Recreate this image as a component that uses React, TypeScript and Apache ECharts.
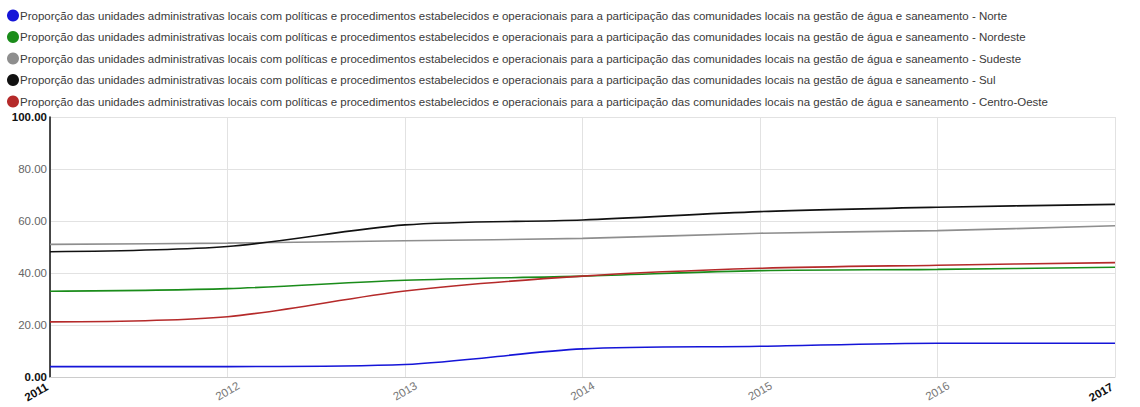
import React, { useEffect, useRef } from "react";
import * as echarts from "echarts";

const years = ["2011", "2012", "2013", "2014", "2015", "2016", "2017"];
const prefix =
  "Proporção das unidades administrativas locais com políticas e procedimentos estabelecidos e operacionais para a participação das comunidades locais na gestão de água e saneamento - ";
const regions = ["Norte", "Nordeste", "Sudeste", "Sul", "Centro-Oeste"];
const norte = [4, 4, 4.8, 10.8, 11.8, 13, 13];
const nordeste = [33, 34, 37.2, 38.8, 40.9, 41.4, 42.2];
const sudeste = [51, 51.5, 52.4, 53.3, 55.3, 56.3, 58.2];
const sul = [48.2, 50.2, 58.5, 60.4, 63.6, 65.3, 66.4];
const centroOeste = [21.2, 23.2, 33.1, 38.8, 41.8, 43, 44];
const seriesValues = [norte, nordeste, sudeste, sul, centroOeste];
const lineColors = ["#1515d8", "#1a8c1a", "#8e8e8e", "#111111", "#b52a2a"];
const yTicks = [0, 20, 40, 60, 80, 100];

export default function App() {
  const ref = useRef<HTMLDivElement>(null);
  useEffect(() => {
    if (!ref.current) return;
    const chart = echarts.init(ref.current, null, { renderer: "svg" });
    const font = "Arial, 'Liberation Sans', sans-serif";
    chart.setOption({
      animation: false,
      backgroundColor: "#ffffff",
      legend: {
        orient: "vertical",
        left: 2,
        top: 4,
        itemGap: 8.5,
        itemWidth: 12,
        itemHeight: 12,
        icon: "circle",
        selectedMode: false,
        textStyle: { fontSize: 11.5, color: "#3a3a3a", fontFamily: font, lineHeight: 13, padding: [0, 0, 0, -4] },
        data: regions.map((r) => prefix + r),
      },
      grid: { left: 50, right: 25, top: 117, bottom: 30, containLabel: false, outerBoundsMode: "none" },
      xAxis: {
        type: "category",
        data: years,
        boundaryGap: false,
        axisLine: { show: true, lineStyle: { color: "#cccccc", width: 1 } },
        axisTick: { show: false },
        splitLine: { show: true, lineStyle: { color: "#e2e2e2", width: 1 } },
        axisLabel: {
          rotate: 30,
          margin: 14,
          align: "center",
          alignMinLabel: "right",
          alignMaxLabel: "right",
          fontFamily: font,
          formatter: (v: string, i: number) =>
            i === 0 || i === years.length - 1 ? `{b|${v}}` : `{n|${v}}`,
          rich: {
            b: { fontSize: 11.5, color: "#111", fontWeight: "bold", fontFamily: font, padding: [0, 0, 12, 0] },
            n: { fontSize: 11.5, color: "#777", fontFamily: font },
          },
        },
      },
      yAxis: {
        type: "value",
        min: yTicks[0],
        max: yTicks[yTicks.length - 1],
        interval: 20,
        axisLine: { show: true, lineStyle: { color: "#111", width: 1.5 } },
        axisTick: { show: false },
        splitLine: { show: true, lineStyle: { color: "#e2e2e2", width: 1 } },
        axisLabel: {
          margin: 3,
          fontFamily: font,
          formatter: (v: number) =>
            v === yTicks[0] || v === yTicks[yTicks.length - 1]
              ? `{b|${v.toFixed(2)}}`
              : `{n|${v.toFixed(2)}}`,
          rich: {
            b: { fontSize: 11.5, color: "#111", fontWeight: "bold", fontFamily: font },
            n: { fontSize: 11.5, color: "#666", fontFamily: font },
          },
        },
      },
      series: regions.map((r, i) => ({
        name: prefix + r,
        type: "line",
        data: seriesValues[i],
        smooth: 0.3,
        symbol: "none",
        color: lineColors[i],
        lineStyle: { width: 1.6, color: lineColors[i] },
      })),
    });
    return () => chart.dispose();
  }, []);
  return (
    <div
      ref={ref}
      style={{ position: "fixed", left: 0, top: 0, width: 1140, height: 407 }}
    />
  );
}
